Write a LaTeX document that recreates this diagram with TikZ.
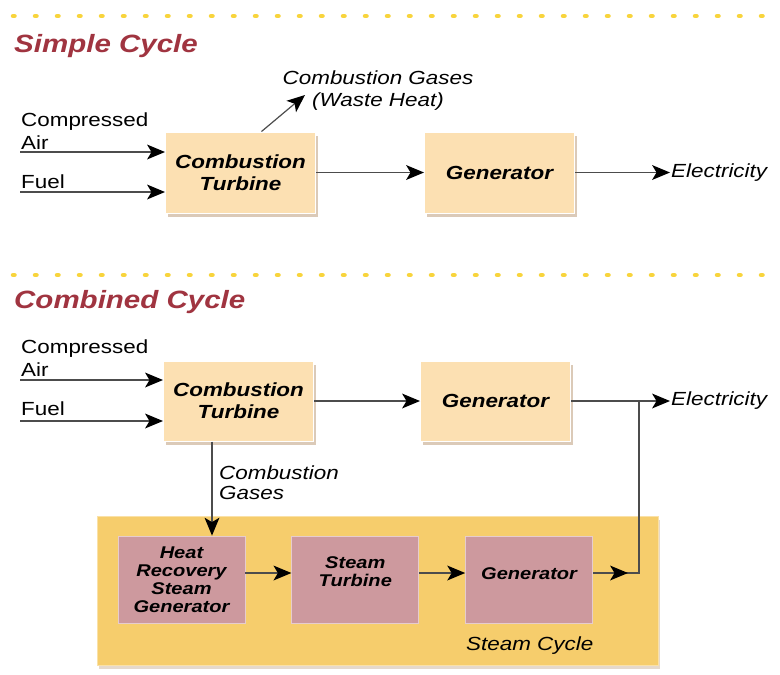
\documentclass[tikz,border=0pt]{standalone}
\usepackage{fontspec}
\setmainfont{Liberation Sans}[FakeStretch=1.18]
\usetikzlibrary{positioning,shadows,arrows.meta,decorations.markings}

\definecolor{peach}{RGB}{252,224,178}
\definecolor{steamgold}{RGB}{246,205,108}
\definecolor{rose}{RGB}{205,153,158}
\definecolor{titlered}{RGB}{160,52,64}
\definecolor{dotyellow}{RGB}{248,212,60}

\tikzset{
  unit/.style={draw=white, line width=1pt, fill=peach, minimum width=150pt,
    minimum height=81pt, align=center,
    font=\fontsize{19}{22}\selectfont\bfseries\itshape,
    drop shadow={shadow xshift=2pt, shadow yshift=-4pt, opacity=.35, fill=brown!80!black}},
  subunit/.style={draw=white!50!rose, line width=.8pt, fill=rose, minimum width=127pt,
    minimum height=87pt, align=center,
    font=\fontsize{17}{18}\selectfont\bfseries\itshape},
  cyclebox/.style={draw=white!40!steamgold, line width=1pt, fill=steamgold,
    minimum width=561pt, minimum height=149pt,
    drop shadow={shadow xshift=2pt, shadow yshift=-4pt, opacity=.25, fill=brown!80!black}},
  txt/.style={inner sep=0pt, font=\fontsize{19}{23.5}\selectfont},
  txtit/.style={txt, font=\fontsize{19}{22}\selectfont\itshape},
  heading/.style={anchor=base west, inner sep=0pt, text=titlered,
    font=\fontsize{25}{30}\selectfont\bfseries\itshape},
  tip/.tip={Stealth[length=18pt, width=15pt, inset=4.5pt, line width=0pt, color=black, fill=black]},
  flow/.style={draw=black!70, line width=1.2pt, -tip},
  sep/.style={draw=dotyellow, line width=4.5pt, line cap=round,
    dash pattern=on 1.5pt off 20.5pt}
}

\begin{document}
\begin{tikzpicture}[x=1pt, y=-1pt]
  \useasboundingbox (0,0) rectangle (780,675);

  % dotted separators and headings
  \draw[sep] (13,16) -- (780,16);
  \draw[sep] (13,275) -- (780,275);
  \node[heading] (simple) at (14,52) {Simple Cycle};
  \node[heading] (combined) at (14,308) {Combined Cycle};

  % simple cycle
  \node[unit] (ct1) at (240.5,172.5) {Combustion\\Turbine};
  \node[unit, right=108pt of ct1] (gen1) {Generator};
  \node[txt, anchor=north west, align=left] (air1) at (21,112.5) {Compressed\\Air};
  \node[txt, anchor=base west] (fuel1) at (21,188) {Fuel};
  \node[txtit, anchor=north, align=center] (waste) at (378,71) {Combustion Gases\\(Waste Heat)};
  \node[txtit, anchor=west, inner sep=1pt] (elec1) at (670,172.5) {Electricity};
  \coordinate (air1in) at (20,152);
  \coordinate (fuel1in) at (20,192);
  \coordinate (wasteend) at (305,95);

  \draw[flow] (air1in) -- (air1in -| ct1.west);
  \draw[flow] (fuel1in) -- (fuel1in -| ct1.west);
  \draw[flow] ([xshift=21pt]ct1.north) -- (wasteend);
  \draw[flow] (ct1) -- (gen1);
  \draw[flow] (gen1) -- (gen1 -| elec1.west);

  % combined cycle
  \node[unit, minimum height=80pt] (ct2) at (238.5,401) {Combustion\\Turbine};
  \node[unit, minimum height=80pt, right=106pt of ct2] (gen2) {Generator};
  \node[txt, anchor=north west, align=left] (air2) at (21,339.5) {Compressed\\Air};
  \node[txt, anchor=base west] (fuel2) at (21,415) {Fuel};
  \node[txtit, anchor=north west, align=left, font=\fontsize{19}{20}\selectfont\itshape] (gases) at (219,466) {Combustion\\Gases};
  \node[txtit, anchor=west, inner sep=1pt] (elec2) at (670,401) {Electricity};
  \coordinate (air2in) at (20,380);
  \coordinate (fuel2in) at (20,421);
  \coordinate (join) at (639,401);

  % steam cycle
  \node[cyclebox] (steam) at (377.5,590.5) {};
  \node[subunit] (hrsg) at (181.5,579.5) {Heat\\Recovery\\Steam\\Generator};
  \node[subunit, right=46pt of hrsg, text depth=15pt] (turb) {Steam\\Turbine};
  \node[subunit, right=46pt of turb, text height=12.5pt, text depth=12.5pt] (gen3) {Generator};
  \node[txtit, anchor=base west] (steamlbl) at (466,650) {Steam Cycle};

  \draw[flow] (air2in) -- (air2in -| ct2.west);
  \draw[flow] (fuel2in) -- (fuel2in -| ct2.west);
  \draw[flow] (ct2) -- (gen2);
  \draw[flow] (gen2) -- (gen2 -| elec2.west);
  \draw[flow] ([xshift=-26.5pt]ct2.south) -- ([xshift=-26.5pt]ct2.south |- hrsg.north);
  \draw[flow] ([yshift=6.5pt]hrsg.east) -- ([yshift=6.5pt]turb.west);
  \draw[flow] ([yshift=6.5pt]turb.east) -- ([yshift=6.5pt]gen3.west);
  \draw[draw=black!70, line width=1.2pt, postaction=decorate,
    decoration={markings, mark=at position 35pt with {\arrow{tip}}}]
    ([yshift=6.5pt]gen3.east) -| (join);
\end{tikzpicture}
\end{document}
